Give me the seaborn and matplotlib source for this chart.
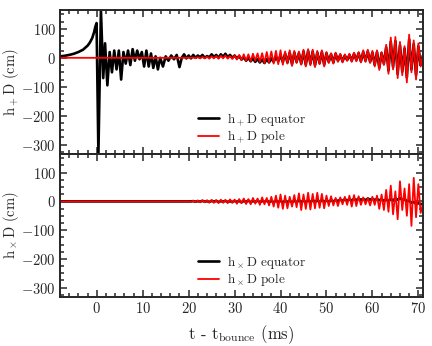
import matplotlib
matplotlib.use("Agg")
from matplotlib import pyplot as plt
from matplotlib.ticker import MultipleLocator, FuncFormatter
import pandas as pd
import seaborn as sns
import numpy as np

# --- data (extrema of the waveforms) ---
# early part of the h+ equator signal (bounce spike and ring-down), ms / cm
t_early = [-8, -7, -6, -5, -4, -3, -2, -1.5, -1, -0.6, -0.3, -0.05, 0.35, 0.9,
           1.4, 1.8, 2.3, 2.8, 3.3, 3.8, 4.3, 4.8, 5.3, 5.8, 6.3, 6.8, 7.3, 7.8,
           8.3, 8.8, 9.3, 9.8, 10.3, 10.8, 11.3, 11.8, 12.3, 12.8, 13.3, 13.8,
           14.4, 15.0, 15.6, 16.2, 16.8, 17.4, 18.0, 18.5, 19.0, 19.5]
hp_eq_early = [5, 7, 10, 14, 20, 28, 42, 53, 68, 88, 108, 120, -330, 165,
               -70, 50, -95, 20, -50, 25, -40, 25, -75, 20, -20, 25, -25, 30,
               -10, 25, -5, 20, -30, 25, -30, 15, -35, 5, -40, 0,
               -30, 5, -10, 8, -5, 10, -32, 0, 12, -2]

# quiet part of the other signals before the oscillations start
t_quiet = [-8, 19.5]
quiet = [0, 0]

# oscillation phase, extrema every half millisecond
t_osc = [20.0, 20.5, 21.0, 21.5, 22.0, 22.5, 23.0, 23.5, 24.0, 24.5,
         25.0, 25.5, 26.0, 26.5, 27.0, 27.5, 28.0, 28.5, 29.0, 29.5,
         30.0, 30.5, 31.0, 31.5, 32.0, 32.5, 33.0, 33.5, 34.0, 34.5,
         35.0, 35.5, 36.0, 36.5, 37.0, 37.5, 38.0, 38.5, 39.0, 39.5,
         40.0, 40.5, 41.0, 41.5, 42.0, 42.5, 43.0, 43.5, 44.0, 44.5,
         45.0, 45.5, 46.0, 46.5, 47.0, 47.5, 48.0, 48.5, 49.0, 49.5,
         50.0, 50.5, 51.0, 51.5, 52.0, 52.5, 53.0, 53.5, 54.0, 54.5,
         55.0, 55.5, 56.0, 56.5, 57.0, 57.5, 58.0, 58.5, 59.0, 59.5,
         60.0, 60.5, 61.0, 61.5, 62.0, 62.5, 63.0, 63.5, 64.0, 64.5,
         65.0, 65.5, 66.0, 66.5, 67.0, 67.5, 68.0, 68.5, 69.0, 69.5,
         70.0, 70.5, 71.0]

hp_eq_osc = [8, -2, 10, 0, 8, 2, 10, 0, 6,
             2, 12, 3, 10, 0, 12, 4, 14, 2, 10, 0, 8,
             -2, 6, -6, 2, -10, 0, -12, -2, -14, -4,
             -16, -6, -18, -4, -16, -2, -14, 4, -12, 8,
             -14, 14, -16, 18, -22, 18, -14, 16, -20, 22,
             -24, 24, -20, 22, -26, 18, -18, 20, -24, 16,
             -14, 12, -16, 14, -10, 10, -12, 8, -8, 10,
             -10, 14, -8, 16, -12, 20, -10, 22, -14, 18,
             -24, 20, -34, 16, -20, 36, -44, 56, -32, 58,
             -56, 44, -48, 32, -68, 64, -40, 48, -60, 40,
             -24, 8]

hp_pole_osc = [0, 0, 1, -1, 2, -2, 3, -2, 4,
               -3, 5, -2, 6, -3, 7, -2, 8, -3, 6, -4, 8,
               -6, 10, -8, 12, -10, 12, -12, 14, -10, 15,
               -14, 16, -18, 20, -16, 22, -20, 24, -22, 26,
               -24, 22, -20, 26, -28, 24, -18, 22, -24, 28,
               -30, 30, -26, 28, -32, 24, -22, 26, -30, 20,
               -18, 16, -20, 18, -14, 14, -16, 12, -10, 14,
               -14, 18, -12, 20, -16, 26, -14, 28, -18, 24,
               -30, 26, -42, 20, -25, 45, -55, 70, -40, 72,
               -70, 55, -60, 40, -85, 80, -50, 60, -75, 50,
               -30, 10]

hx_eq_osc = [0, 0, 1, -1, 1, -1, 2, -1, 1, -2, 2, -1, 2, -2, 1, -1, 2, -2, 1, -2, 2,
             -2, 2, -3, 2, -2, 3, -3, 2, -2, 3, -3, 2, -2, 3, -3, 2, -3, 3, -2, 2,
             -3, 2, -2, 3, -4, 3, -3, 4, -2, 3, -3, 4, -3, 5, -2, 4, -3, 5, -2, 4,
             -2, 5, -1, 6, 0, 7, 1, 8, 2, 8, 3, 9, 4, 10, 5, 9, 4, 10, 6, 9,
             5, 8, 4, 7, 2, 6, 1, 8, 3, 10, 6, 12, 5, 8, 0, 3, -5, -2, -8, -6,
             -10, -8]

hx_pole_osc = [0, -1, 2, -2, 3, -3, 4, -3, 4,
               -4, 5, -5, 4, -6, 6, -5, 5, -6, 7, -5, 6,
               -8, 8, -6, 10, -9, 8, -10, 12, -8, 10,
               -12, 14, -10, 12, -14, 16, -18, 20, -22, 24,
               -26, 20, -24, 16, -18, 22, -20, 28, -30, 24,
               -26, 30, -28, 26, -24, 30, -22, 26, -24, 20,
               -16, 18, -14, 12, -16, 14, -10, 16, -12, 20,
               -18, 22, -16, 18, -12, 14, -10, 12, -14, 16,
               -12, 20, -26, 24, -30, 40, -36, 55, -45, 35,
               -62, 70, -30, 45, -50, 60, -85, 82, -55, 60,
               -40, -10]

y_ticks = [-300, -200, -100, 0, 100]
x_ticks = [0, 10, 20, 30, 40, 50, 60, 70]

sns.set_style("ticks")
plt.rcParams["font.family"] = ["cmr10", "DejaVu Serif"]
plt.rcParams["mathtext.fontset"] = "cm"
plt.rcParams["axes.formatter.use_mathtext"] = True
plt.rcParams["axes.linewidth"] = 1.4

fig = plt.figure(figsize=(4.32, 3.46), dpi=100)
ax_top = fig.add_axes([0.139, 0.555, 0.840, 0.416])
ax_bot = fig.add_axes([0.139, 0.142, 0.840, 0.413])

top_eq = pd.DataFrame({"t": t_early + t_osc, "h": hp_eq_early + hp_eq_osc})
top_pole = pd.DataFrame({"t": t_quiet + t_osc, "h": quiet + hp_pole_osc})
bot_eq = pd.DataFrame({"t": t_quiet + t_osc, "h": quiet + hx_eq_osc})
bot_pole = pd.DataFrame({"t": t_quiet + t_osc, "h": quiet + hx_pole_osc})

sns.lineplot(data=top_eq, x="t", y="h", ax=ax_top, color="black", lw=1.9,
             estimator=None, sort=False, label=r"h$_+$D equator")
sns.lineplot(data=top_pole, x="t", y="h", ax=ax_top, color="#ff0000", lw=1.3,
             estimator=None, sort=False, label=r"h$_+$D pole")
sns.lineplot(data=bot_eq, x="t", y="h", ax=ax_bot, color="black", lw=1.9,
             estimator=None, sort=False, label=r"h$_\times$D equator")
sns.lineplot(data=bot_pole, x="t", y="h", ax=ax_bot, color="#ff0000", lw=1.3,
             estimator=None, sort=False, label=r"h$_\times$D pole")

fmt = FuncFormatter(lambda v, p: r"$\mathbf{%d}$" % v if v >= 0 else r"$\mathbf{-%d}$" % (-v))

for ax in (ax_top, ax_bot):
    ax.set_xlim(-8, 71)
    ax.set_ylim(-332, 165)
    ax.set_xticks(x_ticks)
    ax.set_yticks(y_ticks)
    ax.xaxis.set_minor_locator(MultipleLocator(2))
    ax.yaxis.set_minor_locator(MultipleLocator(25))
    ax.tick_params(which="both", direction="in", top=True, right=True, width=1.1)
    ax.tick_params(which="major", length=5, labelsize=10.5, pad=3)
    ax.tick_params(which="minor", length=2.8)
    ax.yaxis.set_major_formatter(fmt)
    ax.xaxis.set_major_formatter(fmt)
    ax.yaxis.set_label_coords(-0.108, 0.5)
    ax.legend(loc="lower left", bbox_to_anchor=(0.355, -0.005), frameon=False,
              fontsize=9.5, handlelength=1.6, labelspacing=0.05, borderpad=0.2,
              handletextpad=0.6)

ax_top.set_xticklabels([])
ax_top.set_xlabel("")
ax_top.set_ylabel(r"h$_+$D (cm)", fontsize=10.5)
ax_bot.set_ylabel(r"h$_\times$D (cm)", fontsize=10.5)
ax_bot.set_xlabel(r"t - t$_{\rm bounce}$ (ms)", fontsize=12, labelpad=5)

fig.savefig("out.png", dpi=100)
